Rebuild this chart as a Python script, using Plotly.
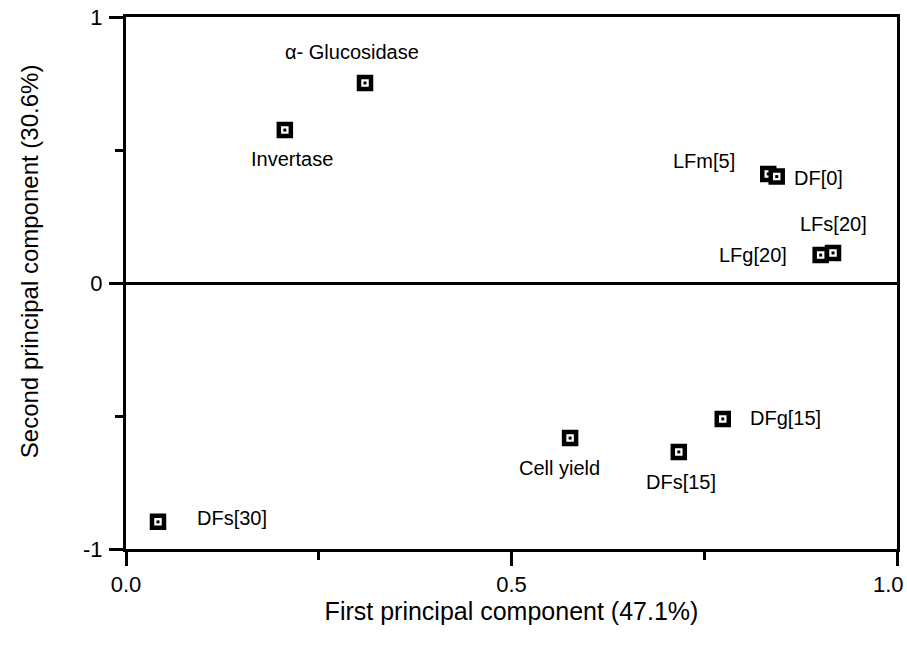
import plotly.graph_objects as go

labels = ["α- Glucosidase", "Invertase", "LFm[5]", "DF[0]", "LFs[20]", "LFg[20]",
          "DFg[15]", "Cell yield", "DFs[15]", "DFs[30]"]
pc1 = [0.310, 0.206, 0.833, 0.844, 0.917, 0.901, 0.774, 0.576, 0.717, 0.0415]
pc2 = [0.752, 0.575, 0.410, 0.400, 0.113, 0.105, -0.511, -0.583, -0.635, -0.898]

x_ticks = [0.0, 0.5, 1.0]
x_ticktext = ["0.0", "0.5", "1.0"]
y_ticks = [-1, 0, 1]
y_ticktext = ["-1", "0", "1"]

x_title = "First principal component (47.1%)"
y_title = "Second principal component (30.6%)"

# label placement (style): xanchor, xshift, yshift
label_style = {
    "α- Glucosidase": ("center", -13, 31),
    "Invertase": ("center", 7, -29),
    "LFm[5]": ("right", -31, 13),
    "DF[0]": ("left", 15, -1),
    "LFs[20]": ("center", 0, 29),
    "LFg[20]": ("right", -32, 0),
    "DFg[15]": ("left", 25, 1),
    "Cell yield": ("center", -11, -30),
    "DFs[15]": ("center", 2, -30),
    "DFs[30]": ("left", 37, 4),
}

FONT = "Liberation Sans, Arial, Helvetica, sans-serif"

fig = go.Figure()
fig.add_trace(go.Scatter(
    x=pc1, y=pc2, mode="markers",
    marker=dict(symbol="square", size=12, color="white",
                line=dict(color="black", width=4.5)),
    hoverinfo="skip", showlegend=False))
fig.add_trace(go.Scatter(
    x=pc1, y=pc2, mode="markers",
    marker=dict(symbol="square", size=3, color="black", line=dict(width=0)),
    hoverinfo="skip", showlegend=False))

for lab, xv, yv in zip(labels, pc1, pc2):
    xa, xs, ys = label_style[lab]
    fig.add_annotation(x=xv, y=yv, text=lab, showarrow=False,
                       xanchor=xa, yanchor="middle", xshift=xs, yshift=ys,
                       font=dict(family=FONT, size=20, color="black"))

# y-axis title as annotation (to place it like the reference)
fig.add_annotation(xref="paper", yref="paper", x=0, y=0.541, xshift=-97,
                   text=y_title, textangle=-90, showarrow=False,
                   xanchor="center", yanchor="middle",
                   font=dict(family=FONT, size=24, color="black"))

# last x tick label placed inside the page edge (as in the reference)
shown_text = x_ticktext[:-1] + [""]
fig.add_annotation(xref="x", yref="paper", x=x_ticks[-1], y=0, xshift=9, yshift=-35,
                   text=x_ticktext[-1], showarrow=False,
                   xanchor="right", yanchor="middle",
                   font=dict(family=FONT, size=22, color="black"))

fig.update_layout(
    width=907, height=647,
    margin=dict(l=126, r=10, t=17, b=98),
    plot_bgcolor="white", paper_bgcolor="white",
    font=dict(family=FONT, color="black"),
)
fig.update_xaxes(
    range=[0, 1], tickvals=x_ticks, ticktext=shown_text,
    showgrid=False, zeroline=False, automargin=False,
    showline=True, linecolor="black", linewidth=3, mirror=True,
    ticks="outside", ticklen=14, tickwidth=3, tickcolor="black",
    minor=dict(tickvals=[0.25, 0.75], ticks="outside", ticklen=8, tickwidth=3, tickcolor="black"),
    tickfont=dict(size=22),
    title=dict(text=x_title, font=dict(size=25), standoff=4),
)
fig.update_yaxes(
    range=[-1, 1], tickvals=y_ticks, ticktext=y_ticktext,
    showgrid=False, zeroline=True, zerolinecolor="black", zerolinewidth=3,
    showline=True, linecolor="black", linewidth=3, mirror=True, automargin=False,
    ticks="outside", ticklen=14, tickwidth=3, tickcolor="black",
    minor=dict(tickvals=[-0.5, 0.5], ticks="outside", ticklen=8, tickwidth=3, tickcolor="black"),
    tickfont=dict(size=22), ticklabelstandoff=2,
)

fig.write_html("out.html")
